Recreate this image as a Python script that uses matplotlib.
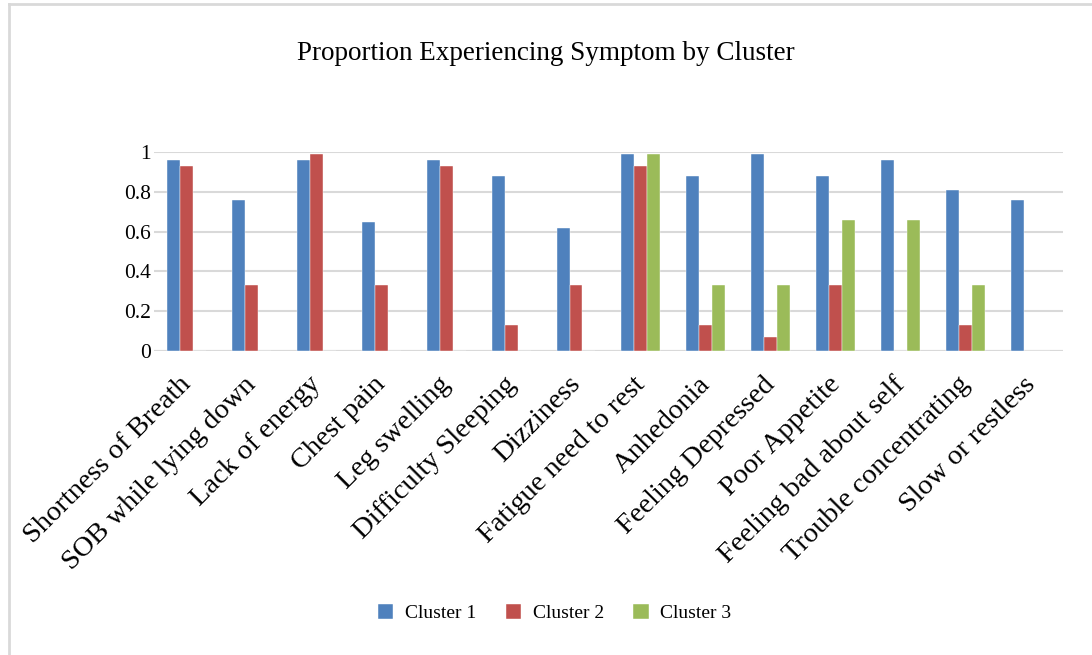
from matplotlib import use
use('Agg')
import matplotlib.pyplot as plt
from matplotlib.lines import Line2D
from matplotlib.transforms import ScaledTranslation
import numpy as np

symptoms = ["Shortness of Breath", "SOB while lying down", "Lack of energy",
            "Chest pain", "Leg swelling", "Difficulty Sleeping", "Dizziness",
            "Fatigue need to rest", "Anhedonia", "Feeling Depressed",
            "Poor Appetite", "Feeling bad about self", "Trouble concentrating",
            "Slow or restless"]
cluster1 = [0.96, 0.76, 0.96, 0.65, 0.96, 0.88, 0.62, 0.99, 0.88, 0.99, 0.88, 0.96, 0.81, 0.76]
cluster2 = [0.93, 0.33, 0.99, 0.33, 0.93, 0.13, 0.33, 0.93, 0.13, 0.07, 0.33, 0.0, 0.13, 0.0]
cluster3 = [0.0, 0.0, 0.0, 0.0, 0.0, 0.0, 0.0, 0.99, 0.33, 0.33, 0.66, 0.66, 0.33, 0.0]
series_names = ["Cluster 1", "Cluster 2", "Cluster 3"]
colors = ["#4F81BD", "#C0504D", "#9BBB59"]

plt.rcParams['font.family'] = ['Liberation Serif', 'DejaVu Serif']

fig = plt.figure(figsize=(10.92, 6.55), dpi=100)
ax = fig.add_axes([0.141, 0.464, 0.8324, 0.304])

x = np.arange(len(symptoms))
w = 0.2
for i, (vals, name, c) in enumerate(zip([cluster1, cluster2, cluster3], series_names, colors)):
    ax.bar(x + (i - 1) * w, vals, w, color=c, label=name, zorder=3,
           edgecolor='white', linewidth=0.3, clip_on=False)

ax.set_xlim(-0.5, len(symptoms) - 0.5)
ax.set_ylim(0, 1)
ax.set_yticks([0, 0.2, 0.4, 0.6, 0.8, 1.0])
ax.set_yticklabels(["0", "0.2", "0.4", "0.6", "0.8", "1"], fontsize=15.5)
ax.yaxis.grid(True, color='#D9D9D9', linewidth=1.5, zorder=0)
ax.set_axisbelow(True)
for s in ax.spines.values():
    s.set_visible(False)
ax.axhline(0, color='#D9D9D9', linewidth=1.5, zorder=1)
ax.tick_params(axis='both', length=0)
ax.tick_params(axis='y', pad=2)

ax.set_xticks(x)
ax.set_xticklabels(symptoms, rotation=45, ha='right', rotation_mode='anchor',
                   fontsize=20.5)
ax.tick_params(axis='x', pad=15)
shift = ScaledTranslation(-0.08, 0, fig.dpi_scale_trans)
for lbl in ax.get_xticklabels():
    lbl.set_transform(lbl.get_transform() + shift)

fig.text(0.5, 0.918, "Proportion Experiencing Symptom by Cluster",
         ha='center', va='center', fontsize=19.5)

ax.legend(loc='center', bbox_to_anchor=(0.508, 0.064), bbox_transform=fig.transFigure,
          ncol=3, frameon=False, fontsize=14, handlelength=0.8, handleheight=0.8,
          columnspacing=1.5, handletextpad=0.6)

# thin gray frame on the left and top edges
fig.add_artist(Line2D([8.5 / 1092, 8.5 / 1092], [0, 1 - 3.5 / 655],
                      color='#D9D9D9', linewidth=2))
fig.add_artist(Line2D([8.5 / 1092, 1], [1 - 3.5 / 655, 1 - 3.5 / 655],
                      color='#D9D9D9', linewidth=2))

fig.savefig("out.png", dpi=100)
